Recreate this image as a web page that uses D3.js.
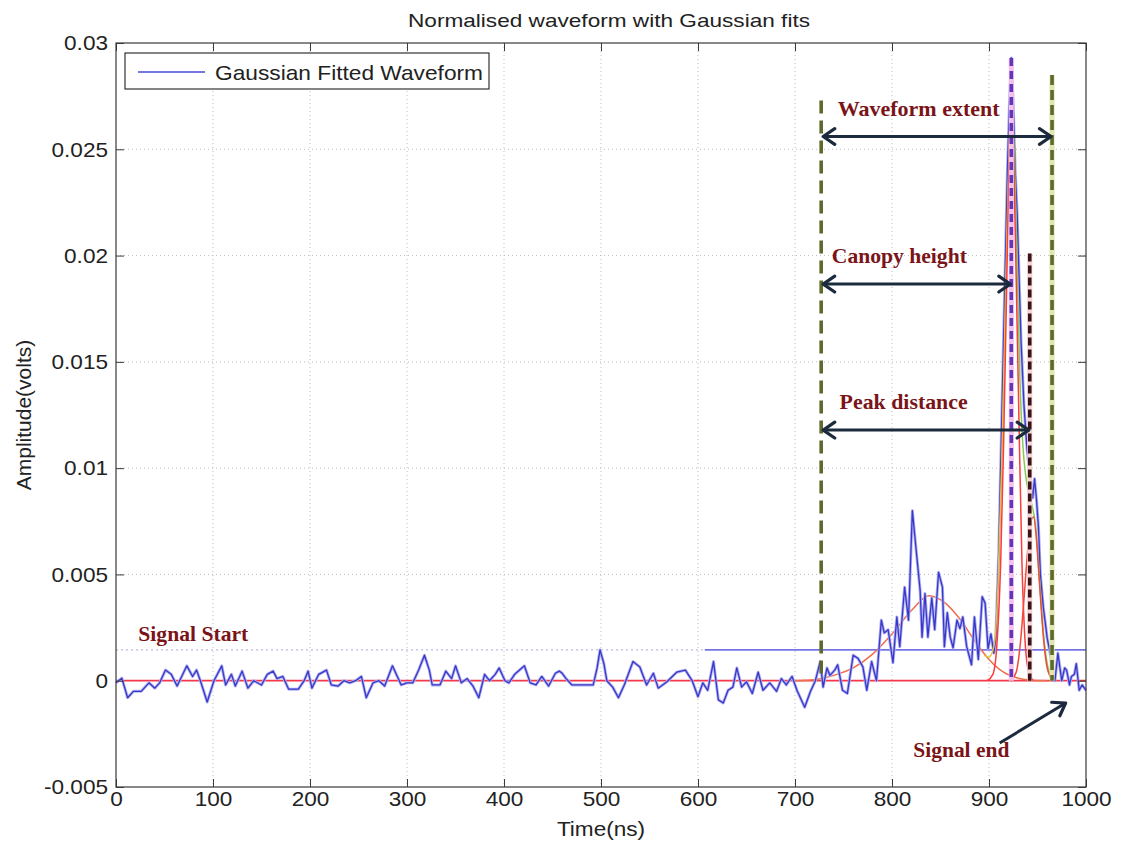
<!DOCTYPE html>
<html><head><meta charset="utf-8">
<script src="https://cdn.jsdelivr.net/npm/d3@7"></script>
<style>body{margin:0;background:#fff} svg{display:block}</style>
</head><body>
<svg id="chart" width="1122" height="848"></svg>
<script>
// ---------- DATA ----------
const waveTime = [0,6,12,18,26,34,40,45,51,57,63,73,79,83,87,94,101,109,113,119,123,130,136,142,150,156,162,166,172,178,188,194,198,202,209,217,222,229,235,241,247,253,258,265,271,277,285,291,294,300,306,312,318,323,326,334,340,346,350,356,362,368,374,380,385,391,395,401,405,411,421,427,433,439,446,453,457,460,464,470,482,492,496,499,503,506,512,518,524,533,540,547,554,559,568,578,587,594,600,605,610,616,621,626,631,636,640,645,650,656,662,667,674,681,686,691,697,702,710,716,721,726,729,733,736,741,744,749,754,760,765,770,774,779,784,789,792,796,801,805,808,813,817,821,825,829,831,834,837,841,844,848,852,854,857,860,863,867,870,873,877,882,885,889,893,896,899,902,905,907,910,913,916,919,921,923,925,927,929,931,933,936,939,942,945,947,949,951,953,956,960,963,966,968,971,975,978,980,983,985,988,990,993,996,1000];
// amplitude in millivolts
const waveMilliVolts = [-0.1,0.12,-0.8,-0.5,-0.5,-0.1,-0.35,-0.1,0.5,0.3,-0.25,0.7,0.2,0.5,0,-1.0,0,0.7,-0.2,0.3,-0.25,0.45,-0.35,0,-0.2,0.3,0.45,0.1,0.2,-0.4,-0.4,0,0.45,-0.35,0.3,0.5,-0.2,-0.25,0,-0.1,0,0.2,-0.8,-0.1,0,-0.25,0.7,0.1,-0.2,-0.1,-0.1,0.5,1.2,0.5,-0.2,-0.2,0.45,0.1,0.7,-0.1,0.1,-0.25,-0.8,0.3,0,0.3,0.6,0,-0.1,0.3,0.7,-0.1,-0.2,0.2,-0.25,0.35,0.45,0.35,0.1,-0.2,-0.2,-0.2,0.6,1.45,0.8,0,-0.3,-0.8,-0.2,0.9,0.65,-0.2,0.35,-0.35,-0.05,0.4,0.5,0,-0.75,-0.1,-0.45,0.9,-0.9,-1.05,-0.45,-0.3,0.6,-0.3,-0.05,-0.6,0.4,-0.45,-0.1,-0.5,0.1,-0.2,0.2,-0.45,-1.25,-0.5,0,0.9,-0.3,0.6,0.25,0.5,0.75,-0.45,-0.6,1.2,1.05,0.65,-0.45,0.9,0,2.85,2.25,2.4,0.85,3.0,1.6,4.4,2.85,8.0,6.1,4.25,2.05,4.1,2.05,3.9,2.4,5.1,4.4,1.6,3.2,2.05,1.55,2.85,2.45,3.0,1.6,0.75,3.0,1.0,3.95,3.65,1.5,2.2,1.3,2.0,6,12,18,24,27,29.3,27,24,22,19,16,13,11,9.75,8.6,9.5,8.5,7.2,5,3.45,2,1.3,0.3,0,1.3,0,0.6,0.5,-0.2,0.2,0.3,0.8,-0.45,-0.2,-0.45];

// Gaussian fit curves (time ns, amplitude mV)
const broadFitTime = [700,720,740,760,780,800,820,838,855,870,885,900,915,930,945,960];
const broadFitMilli = [0,0.05,0.25,0.6,1.25,2.2,3.3,4.0,3.65,2.9,1.9,1.0,0.4,0.12,0.02,0];
const peakFitTime = [898,904,908,912,915,918,921,923,925,928,931,934,937,941,946];
const peakFitMilli = [0,0.3,1.6,5.5,11,18,25,27.5,25.5,19,12,5.5,2,0.4,0];
const thirdFitTime = [922,928,932,936,940,943,946,949,952,956,960,966];
const thirdFitMilli = [0,0.4,1.6,3.8,6.2,7.5,7.7,6.6,4.6,2.1,0.6,0];
const sumRiseTime = [895,900,905,909,913,917,921,923];
const sumRiseMilli = [1.2,1.1,1.6,4.2,10,18,25.5,27.5];
const sumFallTime = [923,926,929,932,935,938,941,944,948,952,956,960,965];
const sumFallMilli = [27.5,25,19.5,14,11,9.6,8.8,8.3,7.3,4.8,2.3,0.8,0.1];

const thresholdMilli = 1.45;
const thresholdStart = 607;

// vertical markers: time ns, top amplitude mV
const markerTime = [727, 965, 923, 942];
const markerTop = [27.3, 28.5, 29.3, 20.1];

// double arrows: start time, end time, level mV
const arrowLabels = ["Waveform extent", "Canopy height", "Peak distance"];
const arrowStart = [727, 727, 727];
const arrowEnd = [965, 923, 942];
const arrowLevel = [25.6, 18.66, 11.79];
const labelTime = [744, 738, 746];
const labelLevel = [26.55, 19.65, 12.78];

const xTicks = [0,100,200,300,400,500,600,700,800,900,1000];
const yTicks = [-0.005,0,0.005,0.01,0.015,0.02,0.025,0.03];
const yTickLabels = ["-0.005","0","0.005","0.01","0.015","0.02","0.025","0.03"];

// ---------- CHART ----------
const svg = d3.select("#chart");
const L = 116, R = 1086, T = 43, B = 787;
const x = d3.scaleLinear().domain([0, 1000]).range([L, R]);
const y = d3.scaleLinear().domain([-0.005, 0.03]).range([B, T]);
const ym = v => y(v / 1000);
const sans = "'Liberation Sans', Arial, sans-serif";
const serif = "'Liberation Serif', 'Times New Roman', serif";
const stretch = 1.075;
function widen(sel) {
  sel.each(function(){
    const w = this.getComputedTextLength();
    if (w > 0) d3.select(this).attr("textLength", w*stretch).attr("lengthAdjust","spacingAndGlyphs");
  });
}

svg.append("rect").attr("width",1122).attr("height",848).attr("fill","#fff");

// grid
const grid = svg.append("g").attr("stroke","#bdbdbd").attr("stroke-width",1).attr("stroke-dasharray","1,3");
grid.selectAll("line.gx").data(xTicks.slice(1,-1)).join("line")
  .attr("x1",d=>x(d)).attr("x2",d=>x(d)).attr("y1",T).attr("y2",B);
grid.selectAll("line.gy").data(yTicks.slice(1,-1)).join("line")
  .attr("y1",d=>y(d)).attr("y2",d=>y(d)).attr("x1",L).attr("x2",R);

// threshold line
svg.append("line").attr("x1",x(0)).attr("x2",x(thresholdStart))
  .attr("y1",ym(thresholdMilli)).attr("y2",ym(thresholdMilli))
  .attr("stroke","#a8a8e8").attr("stroke-width",1).attr("stroke-dasharray","2,3");
svg.append("line").attr("x1",x(thresholdStart)).attr("x2",x(1000))
  .attr("y1",ym(thresholdMilli)).attr("y2",ym(thresholdMilli))
  .attr("stroke","#7474e6").attr("stroke-width",1.6);

// zero line (red)
svg.append("line").attr("x1",x(0)).attr("x2",x(1000)).attr("y1",y(0)).attr("y2",y(0))
  .attr("stroke","#f2384a").attr("stroke-width",1.8);

const lineGen = (ts, vs, curve) => d3.line().x((d,i)=>x(ts[i])).y((d,i)=>ym(vs[i])).curve(curve)(vs);

// broad fit
svg.append("path").attr("d",lineGen(broadFitTime,broadFitMilli,d3.curveMonotoneX))
  .attr("fill","none").attr("stroke","#ee6e4e").attr("stroke-width",1.5);

// waveform
svg.append("path").attr("d",lineGen(waveTime,waveMilliVolts,d3.curveLinear))
  .attr("fill","none").attr("stroke","#b0b0f4").attr("stroke-width",3).attr("stroke-linejoin","round");
svg.append("path").attr("d",lineGen(waveTime,waveMilliVolts,d3.curveLinear))
  .attr("fill","none").attr("stroke","#3838c8").attr("stroke-width",1.3).attr("stroke-linejoin","round");

svg.append("path").attr("d",lineGen(sumRiseTime,sumRiseMilli,d3.curveMonotoneX))
  .attr("fill","none").attr("stroke","#e2c23c").attr("stroke-width",1.5);
svg.append("path").attr("d",lineGen(sumFallTime,sumFallMilli,d3.curveMonotoneX))
  .attr("fill","none").attr("stroke","#84cc56").attr("stroke-width",1.5);
svg.append("path").attr("d",lineGen(peakFitTime,peakFitMilli,d3.curveMonotoneX))
  .attr("fill","none").attr("stroke","#ff3a3a").attr("stroke-width",1.5);
svg.append("path").attr("d",lineGen(thirdFitTime,thirdFitMilli,d3.curveMonotoneX))
  .attr("fill","none").attr("stroke","#f04a3a").attr("stroke-width",1.5);

// vertical dashed markers
const markerStyle = [
  {c:"#5d6a2c", under:null, dash:"13,7", w:3.6},
  {c:"#5d6a2c", under:"#dfe6b0", dash:"10,5", w:3.6},
  {c:"#6236b8", under:"#f4c0ee", dash:"8,5", w:3.6},
  {c:"#3a1418", under:"#f3d3d3", dash:"8,4", w:3.6}
];
markerTime.forEach((t,i)=>{
  const s = markerStyle[i];
  if (s.under) svg.append("line").attr("x1",x(t)).attr("x2",x(t)).attr("y1",ym(markerTop[i])).attr("y2",y(0))
    .attr("stroke",s.under).attr("stroke-width",s.w+1.5);
  svg.append("line").attr("x1",x(t)).attr("x2",x(t)).attr("y1",ym(markerTop[i])).attr("y2",y(0))
    .attr("stroke",s.c).attr("stroke-width",s.w).attr("stroke-dasharray",s.dash);
});

// arrows
const arrowColor = "#1c2a3e";
function head(px, py, dir) {
  const len = 14, a = 0.6;
  const p1 = [px - len*Math.cos(dir - a), py - len*Math.sin(dir - a)];
  const p2 = [px - len*Math.cos(dir + a), py - len*Math.sin(dir + a)];
  return `M${p1[0]},${p1[1]}L${px},${py}L${p2[0]},${p2[1]}`;
}
arrowLabels.forEach((lab,i)=>{
  const x1 = x(arrowStart[i]) + 2, x2 = x(arrowEnd[i]) - 1, yy = ym(arrowLevel[i]);
  svg.append("line").attr("x1",x1).attr("x2",x2).attr("y1",yy).attr("y2",yy)
    .attr("stroke",arrowColor).attr("stroke-width",3);
  svg.append("path").attr("d",head(x2,yy,0)+head(x1,yy,Math.PI))
    .attr("fill","none").attr("stroke",arrowColor).attr("stroke-width",3.2).attr("stroke-linecap","round").attr("stroke-linejoin","round");
});

// signal end arrow
const seFrom = [911, -2.93], seTo = [979, -1.05];
{
  const x1 = x(seFrom[0]), y1 = ym(seFrom[1]), x2 = x(seTo[0]), y2 = ym(seTo[1]);
  svg.append("line").attr("x1",x1).attr("y1",y1).attr("x2",x2).attr("y2",y2)
    .attr("stroke",arrowColor).attr("stroke-width",3);
  svg.append("path").attr("d",head(x2,y2,Math.atan2(y2-y1,x2-x1)))
    .attr("fill","none").attr("stroke",arrowColor).attr("stroke-width",3.2).attr("stroke-linecap","round").attr("stroke-linejoin","round");
}

// annotation text
const annoColor = "#7a1418";
const annoWidths = [162, 135, 128];
arrowLabels.forEach((lab,i)=>{
  svg.append("text").attr("x",x(labelTime[i])).attr("y",ym(labelLevel[i]))
    .attr("font-family",serif).attr("font-weight","bold").attr("font-size",21)
    .attr("fill",annoColor).attr("textLength",annoWidths[i]).attr("lengthAdjust","spacingAndGlyphs").text(lab);
});
svg.append("text").attr("x",x(23)).attr("y",ym(1.87))
  .attr("font-family",serif).attr("font-weight","bold").attr("font-size",21)
  .attr("fill",annoColor).attr("textLength",110).attr("lengthAdjust","spacingAndGlyphs").text("Signal Start");
svg.append("text").attr("x",x(822)).attr("y",ym(-3.6))
  .attr("font-family",serif).attr("font-weight","bold").attr("font-size",21)
  .attr("fill",annoColor).attr("textLength",96).attr("lengthAdjust","spacingAndGlyphs").text("Signal end");

// axes
const axisColor = "#3a3a3a";
const gx = svg.append("g").attr("transform",`translate(0,${B})`)
  .call(d3.axisBottom(x).tickValues(xTicks).tickFormat(d3.format("d")).tickSizeInner(-8).tickSizeOuter(0).tickPadding(4));
const gy = svg.append("g").attr("transform",`translate(${L},0)`)
  .call(d3.axisLeft(y).tickValues(yTicks).tickFormat((d,i)=>yTickLabels[i]).tickSizeInner(-8).tickSizeOuter(0).tickPadding(8));
const gt = svg.append("g").attr("transform",`translate(0,${T})`)
  .call(d3.axisTop(x).tickValues(xTicks).tickFormat("").tickSizeInner(-8).tickSizeOuter(0));
const gr = svg.append("g").attr("transform",`translate(${R},0)`)
  .call(d3.axisRight(y).tickValues(yTicks).tickFormat("").tickSizeInner(-8).tickSizeOuter(0));
[gx,gy,gt,gr].forEach(g=>{
  g.select(".domain").remove();
  g.selectAll(".tick line").attr("stroke",axisColor);
  g.selectAll("text").attr("font-family",sans).attr("font-size",21).attr("fill","#222");
});
widen(gx.selectAll("text"));
widen(gy.selectAll("text"));
svg.append("rect").attr("x",L).attr("y",T).attr("width",R-L).attr("height",B-T)
  .attr("fill","none").attr("stroke",axisColor).attr("stroke-width",1.2);

// labels
svg.append("text").attr("x",(L+R)/2 + 8).attr("y",27).attr("text-anchor","middle")
  .attr("font-family",sans).attr("font-size",19).attr("fill","#222")
  .attr("textLength",402).attr("lengthAdjust","spacingAndGlyphs")
  .text("Normalised waveform with Gaussian fits");
svg.append("text").attr("x",(L+R)/2).attr("y",836).attr("text-anchor","middle")
  .attr("font-family",sans).attr("font-size",21).attr("fill","#222").text("Time(ns)")
  .call(widen);
svg.append("text").attr("transform",`translate(31,${(T+B)/2}) rotate(-90)`).attr("text-anchor","middle")
  .attr("font-family",sans).attr("font-size",21).attr("fill","#222").text("Amplitude(volts)");

// legend
const lg = svg.append("g");
lg.append("rect").attr("x",125).attr("y",53).attr("width",364).attr("height",36)
  .attr("fill","#fff").attr("stroke","#333").attr("stroke-width",1.2);
lg.append("line").attr("x1",138).attr("x2",205).attr("y1",72).attr("y2",72)
  .attr("stroke","#4a4ad8").attr("stroke-width",1.5);
lg.append("text").attr("x",215).attr("y",72).attr("dy","0.36em")
  .attr("font-family",sans).attr("font-size",21).attr("fill","#222")
  .attr("textLength",268).attr("lengthAdjust","spacingAndGlyphs").text("Gaussian Fitted Waveform");
</script>
</body></html>
